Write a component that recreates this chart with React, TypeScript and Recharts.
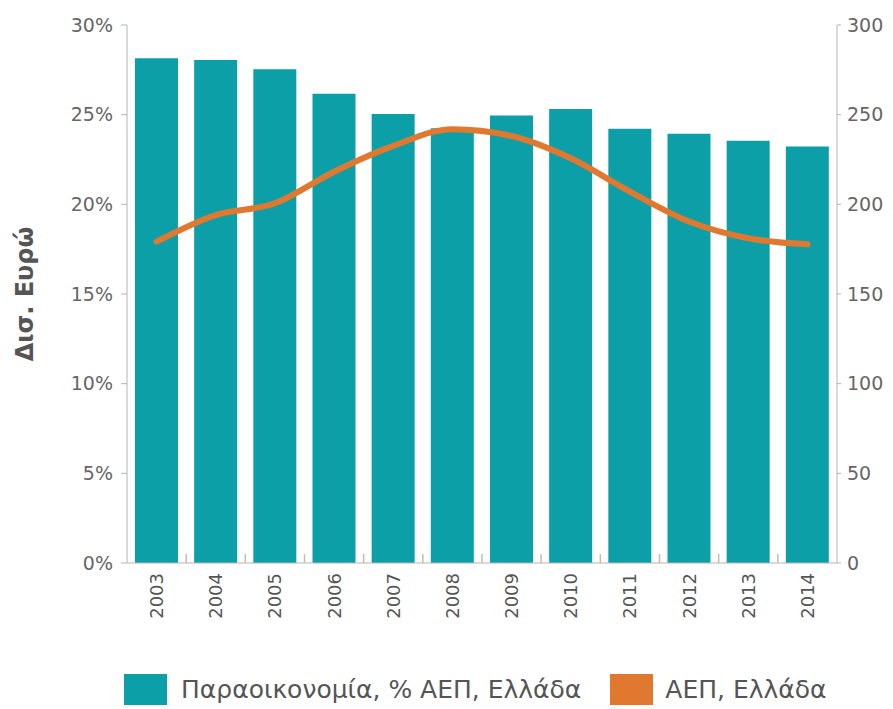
import React from "react";
import { ComposedChart, Bar, Line, XAxis, YAxis, Legend } from "recharts";

const years = ["2003", "2004", "2005", "2006", "2007", "2008", "2009", "2010", "2011", "2012", "2013", "2014"];
const shadowEconomyPct = [28.15, 28.05, 27.53, 26.16, 25.04, 24.24, 24.95, 25.32, 24.22, 23.93, 23.54, 23.22];
const gdpBillions = [179.2, 194, 200.6, 218.2, 232.6, 241.9, 238.1, 225.7, 207.1, 190.4, 181.1, 177.7];
const leftTicks = [0, 5, 10, 15, 20, 25, 30];
const rightTicks = [0, 50, 100, 150, 200, 250, 300];
const barName = "Παραοικονομία, % ΑΕΠ, Ελλάδα";
const lineName = "ΑΕΠ, Ελλάδα";
const yLabel = "Δισ. Ευρώ";

const data = years.map((y, i) => ({ year: y, pct: shadowEconomyPct[i], gdp: gdpBillions[i] }));

const FONT = "'DejaVu Sans', 'Noto Sans', sans-serif";
const TEAL = "#0c9fa8";
const ORANGE = "#e0782f";
const AXIS = "#b5b5b5";
const TEXT = "#666666";
const TICK_MARGIN = 10;

const XTick = (props: any) => {
  const { x, y, payload, index, width, visibleTicksCount } = props;
  const count = visibleTicksCount || years.length;
  const half = width && count ? width / count / 2 : 0;
  const axisY = y - TICK_MARGIN;
  return (
    <g>
      {index > 0 && half > 0 ? (
        <line x1={x - half} x2={x - half} y1={axisY} y2={axisY - 9} stroke="#c9bcae" strokeWidth={1.5} />
      ) : null}
      <text
        x={x}
        y={y}
        transform={`rotate(-90, ${x}, ${y})`}
        textAnchor="end"
        dominantBaseline="central"
        fill="#555"
        fontSize={18}
        fontFamily={FONT}
      >
        {payload.value}
      </text>
    </g>
  );
};

const LegendContent = () => (
  <div style={{ display: "flex", alignItems: "center", height: 40, fontFamily: FONT, color: "#555", fontSize: 25, whiteSpace: "nowrap" }}>
    <div style={{ width: 43, height: 31, background: TEAL, marginLeft: 116 }} />
    <span style={{ marginLeft: 14 }}>{barName}</span>
    <div style={{ width: 43, height: 31, background: ORANGE, marginLeft: 29 }} />
    <span style={{ marginLeft: 12 }}>{lineName}</span>
  </div>
);

export default function App() {
  return (
    <div style={{ width: 885, height: 701, background: "#fff" }}>
      <ComposedChart
        width={885}
        height={701}
        data={data}
        margin={{ top: 17, right: 0, bottom: 0, left: 0 }}
        barCategoryGap="13.5%"
      >
        <XAxis
          dataKey="year"
          height={106}
          stroke={AXIS}
          tickLine={false}
          tickSize={0}
          tick={<XTick />}
          tickMargin={TICK_MARGIN}
          interval={0}
        />
        <YAxis
          yAxisId="left"
          orientation="left"
          width={119}
          domain={[0, 30]}
          ticks={leftTicks}
          tickFormatter={(v: number) => `${v}%`}
          stroke={AXIS}
          tickSize={6}
          tickMargin={8}
          tick={{ fill: TEXT, fontSize: 19, fontFamily: FONT }}
          label={{
            value: yLabel,
            angle: -90,
            position: "insideLeft",
            offset: 16,
            style: { textAnchor: "middle", fill: "#555", fontSize: 24, fontWeight: 700, fontFamily: FONT },
          }}
        />
        <YAxis
          yAxisId="right"
          orientation="right"
          width={56}
          domain={[0, 300]}
          ticks={rightTicks}
          stroke={AXIS}
          tickSize={4}
          tickMargin={6}
          tick={{ fill: TEXT, fontSize: 19, fontFamily: FONT }}
        />
        <Legend verticalAlign="bottom" content={<LegendContent />} />
        <Bar yAxisId="left" dataKey="pct" name={barName} fill={TEAL} isAnimationActive={false} />
        <Line
          yAxisId="right"
          dataKey="gdp"
          name={lineName}
          type="monotone"
          stroke={ORANGE}
          strokeWidth={6}
          strokeLinecap="round"
          dot={false}
          activeDot={false}
          isAnimationActive={false}
        />
      </ComposedChart>
    </div>
  );
}
